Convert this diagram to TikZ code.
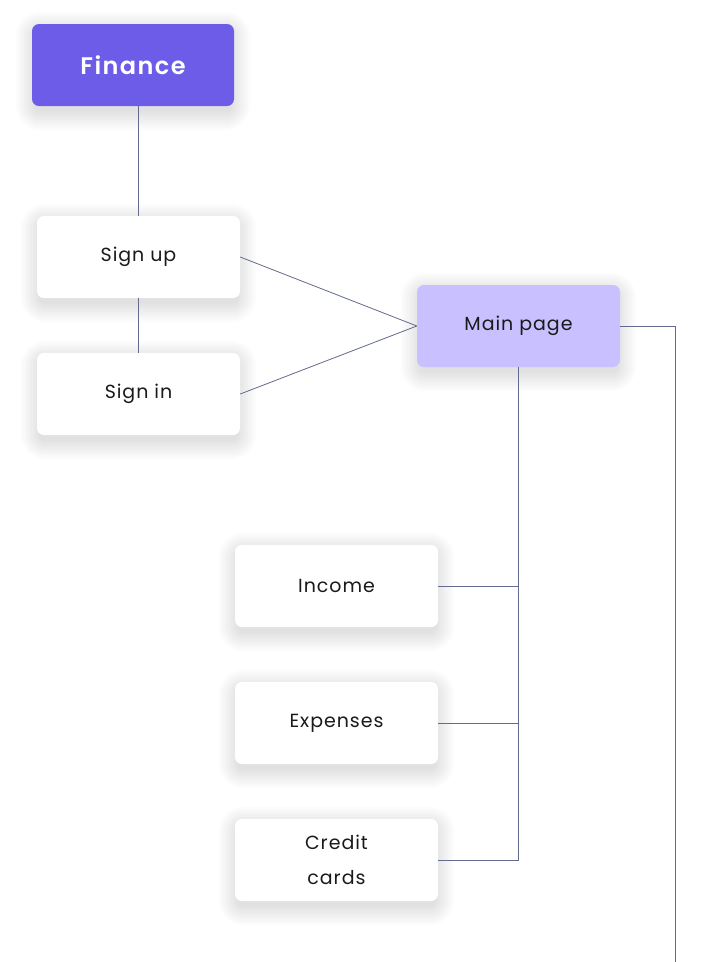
\documentclass[tikz,border=0pt]{standalone}
\usepackage{fontspec}
\setmainfont{Poppins}[LetterSpace=5]
\newfontfamily\medfont{Poppins SemiBold}[LetterSpace=6]
\usetikzlibrary{backgrounds}
\definecolor{finc}{HTML}{6C5CE7}
\definecolor{mainc}{HTML}{C8C0FF}
\definecolor{linec}{HTML}{626B8C}
\definecolor{txtc}{HTML}{1A1A1A}
\tikzset{
  box/.style={rounded corners=7pt, minimum width=203pt, minimum height=82pt, inner sep=0pt,
    align=center, text=txtc, font=\fontsize{19}{35}\selectfont},
  wbox/.style={box, fill=white},
  conn/.style={draw=linec, line width=0.8pt},
  shade layer/.style={fill=black, fill opacity=0.012},
}
\begin{document}
\begin{tikzpicture}[x=1pt,y=1pt]
\useasboundingbox (0,0) rectangle (704,-962);
\node[box, fill=finc, text=white, minimum width=202pt, font=\fontsize{24}{28}\medfont] (fin) at (133,-65) {Finance};
\node[wbox] (sup) at (138.5,-257) {Sign up};
\node[wbox] (sin) at (138.5,-394) {Sign in};
\node[box, fill=mainc] (main) at (518.5,-326) {Main page};
\node[wbox] (inc) at (336.5,-586) {Income};
\node[wbox] (exp) at (336.5,-723) {Expenses};
\node[wbox] (cc) at (336.5,-860) {Credit\\cards};
\coordinate (end) at (675,-962);
\begin{scope}[on background layer]
\fill[white] (0,0) rectangle (704,-962);
\foreach \n in {fin,sup,sin,main,inc,exp,cc}{
  \foreach \r in {0,2,...,18}{
    \fill[shade layer, rounded corners={7pt+\r pt}]
      ([shift={(-\r pt+2pt,-\r pt-6pt)}]\n.south west) rectangle ([shift={(\r pt-2pt,\r pt-6pt)}]\n.north east);
  }
}
\end{scope}
\draw[conn] (sup.north |- fin.south) -- (sup.north);
\draw[conn] (sup.south) -- (sin.north);
\draw[conn] (sup.east) -- (main.west);
\draw[conn] (sin.east) -- (main.west);
\draw[conn] (main.south) |- (cc.east);
\draw[conn] (inc.east) -- (inc.east -| main.south);
\draw[conn] (exp.east) -- (exp.east -| main.south);
\draw[conn] (main.east) -| (end);
\end{tikzpicture}
\end{document}
